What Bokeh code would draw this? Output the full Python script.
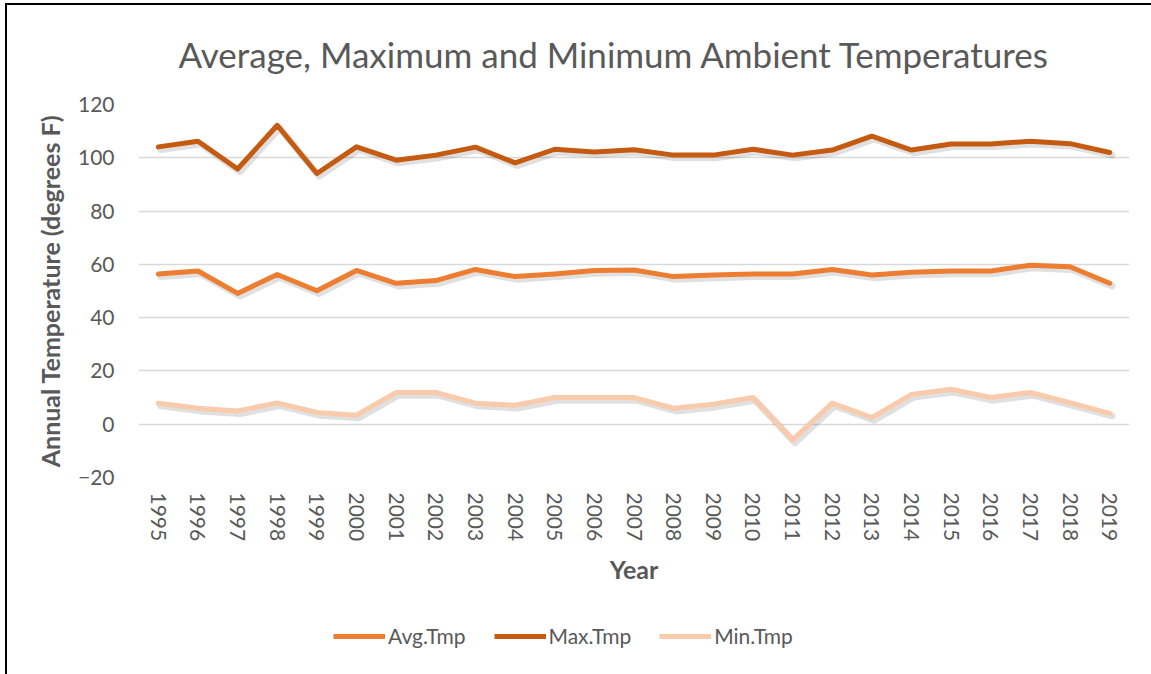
from bokeh.plotting import figure
from bokeh.layouts import column
from bokeh.models import ColumnDataSource, Legend, LegendItem, FactorRange, Title, InlineStyleSheet, Range1d
from bokeh.transform import dodge
from bokeh.embed import file_html
from bokeh.resources import INLINE

years = [str(y) for y in range(1995, 2020)]
avg_tmp = [56.4, 57.5, 49.1, 56.2, 50.1, 57.7, 52.9, 53.9, 58.1, 55.4, 56.4, 57.7, 57.9,
           55.4, 56.0, 56.4, 56.4, 58.1, 56.0, 57.0, 57.5, 57.5, 59.7, 59.1, 52.9]
max_tmp = [104.1, 106.2, 95.8, 112.2, 94.1, 104.1, 99.1, 101.0, 104.0, 98.1, 103.2, 102.2, 103.0,
           101.0, 101.0, 103.2, 101.0, 102.9, 108.1, 102.9, 105.2, 105.2, 106.2, 105.3, 102.0]
min_tmp = [7.9, 6.0, 5.0, 8.0, 4.4, 3.4, 11.9, 11.9, 7.9, 7.1, 10.0, 10.0, 10.0,
           6.0, 7.5, 10.0, -5.9, 7.9, 2.5, 11.2, 13.1, 10.0, 11.9, 8.1, 4.1]
y_ticks = [-20, 0, 20, 40, 60, 80, 100, 120]

title_text = "Average, Maximum and Minimum Ambient Temperatures"
series = [("Avg.Tmp", "avg", "#ED7D31"), ("Max.Tmp", "max", "#C55A11"), ("Min.Tmp", "min", "#F8CBAD")]

src = ColumnDataSource(dict(year=years, avg=avg_tmp, max=max_tmp, min=min_tmp))

FONT = "Lato"
GREY = "#595959"

W = 1143
H1 = 600
H2 = 666 - H1
LEFT = 138
RIGHT = W - 1129

p = figure(x_range=FactorRange(*years, range_padding=0), y_range=(-20, 120),
           width=W, height=H1, output_backend="svg", toolbar_location=None,
           min_border_left=LEFT, min_border_right=RIGHT, min_border_top=103,
           min_border_bottom=H1 - 477)
p.outline_line_color = None
p.background_fill_color = "white"
p.border_fill_color = "white"

p.xgrid.grid_line_color = None
p.ygrid.grid_line_color = "#D9D9D9"
p.ygrid.grid_line_width = 1.5
p.yaxis.ticker = y_ticks

for ax in (p.xaxis, p.yaxis):
    ax.axis_line_color = None
    ax.major_tick_line_color = None
    ax.minor_tick_line_color = None
    ax.major_label_text_color = GREY
    ax.major_label_text_font = FONT
    ax.major_label_text_font_size = "21px"
    ax.axis_label_text_color = GREY
    ax.axis_label_text_font = FONT
    ax.axis_label_text_font_style = "bold"
    ax.axis_label_text_font_size = "25px"

p.yaxis.axis_label = "Annual Temperature (degrees F)"
p.yaxis.major_label_standoff = 18
p.yaxis.axis_label_standoff = 10
p.xaxis.axis_label = "Year"
p.xaxis.major_label_orientation = "vertical"
p.xaxis.major_label_standoff = 9
p.xaxis.axis_label_standoff = 10

for name, col, color in series:
    p.line(x=dodge("year", 0.06, range=p.x_range), y=dodge(col, -1.0), source=src,
           line_color="black", line_alpha=0.12, line_width=7, line_join="round", line_cap="round")

for name, col, color in series:
    p.line(x="year", y=col, source=src, line_color=color, line_width=5,
           line_join="round", line_cap="round")

t = Title(text=title_text, text_font=FONT, text_font_size="35px", text_font_style="normal",
          text_color=GREY, align="left", offset=40, standoff=60)
p.add_layout(t, "above")

# legend strip (separate figure so it is not clipped by the plot frame)
p2 = figure(x_range=p.x_range, y_range=Range1d(-20, 120), width=W, height=H2,
            output_backend="svg", toolbar_location=None, x_axis_type=None, y_axis_type=None,
            min_border_left=LEFT, min_border_right=RIGHT, min_border_top=0, min_border_bottom=0)
p2.outline_line_color = None
p2.grid.grid_line_color = None
p2.border_fill_color = "white"
leg_items = []
for name, col, color in series:
    r = p2.line(x="year", y=col, source=src, line_color=color, line_width=5, visible=False)
    leg_items.append(LegendItem(label=name, renderers=[r]))

legend = Legend(items=leg_items, orientation="horizontal", location=(195, 18))
legend.label_text_font = FONT
legend.label_text_font_size = "21px"
legend.label_text_color = GREY
legend.glyph_width = 52
legend.glyph_height = 20
legend.label_standoff = 3
legend.spacing = 28
legend.padding = 0
legend.margin = 0
legend.border_line_color = None
legend.background_fill_alpha = 0
legend.inactive_fill_alpha = 0
p2.add_layout(legend, "center")

layout = column(p, p2, spacing=0)
layout.stylesheets = [InlineStyleSheet(css=(
    ":host { position: relative; }"
    ":host::after { content: ''; position: absolute; left: 5px; top: 3px; right: -8px; bottom: -8px;"
    " border-left: 2px solid #000; border-top: 2px solid #000; pointer-events: none; z-index: 10; }"
))]

open("out.html", "w").write(file_html(layout, INLINE))
